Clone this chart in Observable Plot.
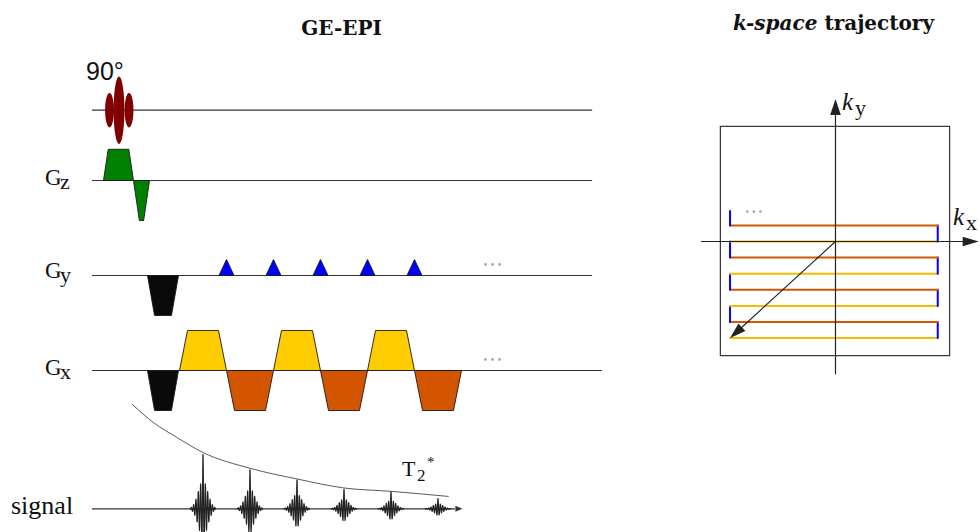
<!DOCTYPE html>
<html><head><meta charset="utf-8">
<script src="https://cdn.jsdelivr.net/npm/d3@7"></script>
<script src="https://cdn.jsdelivr.net/npm/@observablehq/plot@0.6"></script>
<style>
body{margin:0;background:#fff;}
#wrap{position:relative;width:980px;height:532px;overflow:hidden;font-family:"Liberation Serif",serif;color:#111;}
.lbl{position:absolute;white-space:nowrap;line-height:1;}
</style></head><body><div id="wrap"></div>
<script>
// ---------------- data (time in readout-lobe units, amplitudes normalised) ----------------
const rfLobes = [
  {center: -1.489, half: 0.094, amp: 0.51},
  {center: -1.074, half: 0.094, amp: 0.51},
  {center: -1.287, half: 0.115, amp: 1.00}
];
const gzLobes = [
  {start: -1.617, end: -0.979, amp: 0.78, ramp: 0.10},
  {start: -0.979, end: -0.638, amp: -1.0, ramp: 0.125}
];
const gyPrephase = {start: -0.681, end: -0.021, amp: -1.0, ramp: 0.15};
const gyBlipTimes = [1, 2, 3, 4, 5];
const gyBlipAmp = 0.4;
const gyBlipHalf = 0.16;
const gxPrephase = {start: -0.681, end: -0.021, amp: -1.0, ramp: 0.15};
const gxReadoutAmps = [1, -1, 1, -1, 1, -1];
const gxRamp = 0.17;
const echoTimes = [0.5, 1.5, 2.5, 3.5, 4.5, 5.5];
const echoAmps = [1.0, 0.72, 0.53, 0.36, 0.31, 0.19];
const decayTimes = [-1.0, -0.55, -0.04, 0.5, 1.5, 2.5, 3.5, 4.5, 5.72];
const decayAmps = [1.85, 1.53, 1.26, 1.0, 0.72, 0.53, 0.37, 0.31, 0.22];
const ellipsisTimes = [6.51, 6.66, 6.81];
const ellipsisAmp = 0.275;
const lineSpan = {start: -1.85, end: 8.79, gxEnd: 9.0, signalEnd: 6.02};

// k-space
const readoutKy = [-6, -5, -4, -3, -2, -1, 0, 1];
const kxMin = -6.55, kxMax = 6.35;
const lastBlipTop = 1.9;
const kBox = 7.12;
const kDotsKx = [-5.48, -5.07, -4.66];
const kDotsKy = 1.86;
const kAxisX = [-8.32, 8.9];
const kAxisY = [-8.22, 8.85];

// ---------------- styling ----------------
const C = {rf: "#800000", gz: "#008000", pre: "#0a0a0a", pos: "#ffcc00", neg: "#d45500",
  kpos: "#f0c000", blip: "#0000ff", dots: "#8fbc8f", line: "#333333", outline: "#1a1a1a"};
const wrap = document.getElementById("wrap");
const T0 = 179, PX = 47, SEQ_W = 620;

function place(svg, left, top) {
  svg.style.position = "absolute";
  svg.style.left = left + "px";
  svg.style.top = top + "px";
  svg.style.background = "transparent";
  svg.style.overflow = "visible";
  svg.style.maxWidth = "none";
  wrap.appendChild(svg);
}
function seqRow({top, height, base, unit, marks}) {
  const svg = Plot.plot({
    width: SEQ_W, height, margin: 0,
    x: {domain: [(0 - T0) / PX, (SEQ_W - T0) / PX], range: [0, SEQ_W], axis: null},
    y: {domain: [-(height - base) / unit, base / unit], range: [height, 0], axis: null},
    marks
  });
  place(svg, 0, top);
}
function trap(l) {
  return [{t: l.start, a: 0}, {t: l.start + l.ramp, a: l.amp}, {t: l.end - l.ramp, a: l.amp},
          {t: l.end, a: 0}, {t: l.start, a: 0}];
}
function lobeMark(l, fill) {
  return Plot.line(trap(l), {x: "t", y: "a", fill, stroke: C.outline, strokeWidth: 0.9, curve: "linear"});
}
function baseline(end) {
  return Plot.ruleY([0], {x1: lineSpan.start, x2: end, stroke: C.line, strokeWidth: 1.2});
}

// RF row
const ellipse = (l) => d3.range(0, 73).map(i => {
  const th = i / 72 * 2 * Math.PI;
  return {t: l.center + l.half * Math.cos(th), a: l.amp * Math.sin(th)};
});
seqRow({top: 40, height: 120, base: 69.7, unit: 33.7, marks: [
  baseline(lineSpan.end),
  ...rfLobes.map(l => Plot.line(ellipse(l), {x: "t", y: "a", fill: C.rf, stroke: "none", curve: "linear"}))
]});

// Gz row
seqRow({top: 140, height: 90, base: 40, unit: 40, marks: [
  baseline(lineSpan.end),
  ...gzLobes.map(l => lobeMark(l, C.gz))
]});

// Gy row
const blips = gyBlipTimes.map(t => ({start: t - gyBlipHalf, end: t + gyBlipHalf, amp: gyBlipAmp, ramp: gyBlipHalf}));
seqRow({top: 240, height: 90, base: 35, unit: 40, marks: [
  baseline(lineSpan.end),
  lobeMark(gyPrephase, C.pre),
  ...blips.map(l => lobeMark(l, C.blip)),
  Plot.dot(ellipsisTimes, {x: d => d, y: () => ellipsisAmp, r: 1.4, fill: C.dots, stroke: "none"})
]});

// Gx row
const readout = gxReadoutAmps.map((a, k) => ({start: k, end: k + 1, amp: a, ramp: gxRamp}));
seqRow({top: 320, height: 100, base: 50, unit: 40, marks: [
  baseline(lineSpan.gxEnd),
  lobeMark(gxPrephase, C.pre),
  ...readout.map(l => lobeMark(l, l.amp > 0 ? C.pos : C.neg)),
  Plot.dot(ellipsisTimes, {x: d => d, y: () => ellipsisAmp, r: 1.4, fill: C.dots, stroke: "none"})
]});

// Signal row
const period = 0.05, sigN = 0.019, sigW = 0.145, span = 0.27;
const echoes = echoTimes.flatMap((tc, i) => d3.range(-span, span + 1e-9, 0.004).map(s => ({
  echo: i, t: tc + s,
  a: echoAmps[i] * (0.5 * Math.exp(-((s / sigN) ** 2)) + 0.5 * Math.exp(-((s / sigW) ** 2))) * Math.cos(2 * Math.PI * s / period)
})));
const decay = decayTimes.map((t, i) => ({t, a: decayAmps[i]}));
const headLen = 0.15, headHalf = 0.053;
seqRow({top: 395, height: 137, base: 113.3, unit: 56.3, marks: [
  Plot.ruleY([0], {x1: lineSpan.start, x2: lineSpan.signalEnd - headLen, stroke: C.line, strokeWidth: 1.2}),
  Plot.line([{t: lineSpan.signalEnd - headLen, a: headHalf}, {t: lineSpan.signalEnd, a: 0}, {t: lineSpan.signalEnd - headLen, a: -headHalf}],
    {x: "t", y: "a", fill: C.line, stroke: "none"}),
  Plot.line(decay, {x: "t", y: "a", curve: "monotone-x", stroke: "#5a5a5a", strokeWidth: 1}),
  Plot.line(echoes, {x: "t", y: "a", z: "echo", stroke: "#222", strokeWidth: 1.15, curve: "linear"})
]});

// k-space plot
const KL = 690, KT = 90, KW = 290, KH = 290, KU = 16.1, KCX = 145, KCY = 151;
const segs = [];
readoutKy.forEach((ky, i) => {
  const pos = i % 2 === 0;
  segs.push({id: "r" + i, color: pos ? C.kpos : C.neg, pts: [{kx: kxMin, ky}, {kx: kxMax, ky}]});
  const nextKy = i < readoutKy.length - 1 ? readoutKy[i + 1] : lastBlipTop;
  const kx = pos ? kxMax : kxMin;
  segs.push({id: "b" + i, color: C.blip, pts: [{kx, ky}, {kx, ky: nextKy}]});
});
function arrowHead(x0, y0, x1, y1, len, half) {
  const dx = x1 - x0, dy = y1 - y0, L = Math.hypot(dx, dy), ux = dx / L, uy = dy / L;
  const bx = x1 - ux * len, by = y1 - uy * len;
  return {base: {kx: bx, ky: by}, tri: [{kx: bx - uy * half, ky: by + ux * half}, {kx: x1, ky: y1}, {kx: bx + uy * half, ky: by - ux * half}]};
}
const axX = arrowHead(kAxisX[0], 0, kAxisX[1], 0, 1.0, 0.3);
const axY = arrowHead(0, kAxisY[0], 0, kAxisY[1], 1.0, 0.33);
const pre = arrowHead(0, 0, kxMin, readoutKy[0], 1.0, 0.32);
const kMarks = [
  Plot.rect([{}], {x1: -kBox, x2: kBox, y1: -kBox, y2: kBox, fill: "none", stroke: "#333", strokeWidth: 1.2}),
  ...segs.map(s => Plot.line(s.pts, {x: "kx", y: "ky", stroke: s.color, strokeWidth: 2})),
  Plot.dot(kDotsKx, {x: d => d, y: () => kDotsKy, r: 1.4, fill: C.dots, stroke: "none"}),
  Plot.line([{kx: kAxisX[0], ky: 0}, axX.base], {x: "kx", y: "ky", stroke: "#222", strokeWidth: 1.2}),
  Plot.line(axX.tri, {x: "kx", y: "ky", fill: "#222", stroke: "none"}),
  Plot.line([{kx: 0, ky: kAxisY[0]}, axY.base], {x: "kx", y: "ky", stroke: "#222", strokeWidth: 1.2}),
  Plot.line(axY.tri, {x: "kx", y: "ky", fill: "#222", stroke: "none"}),
  Plot.line([{kx: 0, ky: 0}, pre.base], {x: "kx", y: "ky", stroke: "#222", strokeWidth: 1.1}),
  Plot.line(pre.tri, {x: "kx", y: "ky", fill: "#222", stroke: "none"})
];
const ksvg = Plot.plot({
  width: KW, height: KH, margin: 0,
  x: {domain: [-KCX / KU, (KW - KCX) / KU], range: [0, KW], axis: null},
  y: {domain: [(KCY - KH) / KU, KCY / KU], range: [KH, 0], axis: null},
  marks: kMarks
});
place(ksvg, KL, KT);

// ---------------- text ----------------
function label(txt, left, base, size, opts = {}) {
  const s = document.createElement("span");
  s.className = "lbl";
  s.style.left = left + "px";
  s.style.top = (base - 0.84 * size) + "px";
  s.style.fontSize = size + "px";
  if (opts.family) s.style.fontFamily = opts.family;
  if (opts.bold) s.style.fontWeight = "bold";
  if (opts.italic) s.style.fontStyle = "italic";
  if (opts.center) s.style.transform = "translateX(-50%)";
  if (opts.html) s.innerHTML = txt; else s.textContent = txt;
  wrap.appendChild(s);
}
label("GE-EPI", 341.5, 35, 20, {bold: true, center: true, family: "DejaVu Serif"});
label("<i>k-space</i> trajectory", 833.5, 30, 20, {bold: true, center: true, html: true, family: "DejaVu Serif"});
label("90°", 86, 80, 25, {family: "Liberation Sans"});
label("G", 45, 185, 23); label("z", 60, 189, 22);
label("G", 45, 278, 23); label("y", 60, 282, 22);
label("G", 45, 375, 23); label("x", 60, 379, 22);
label("signal", 11, 515, 26);
label("T", 402, 476, 22); label("2", 417, 481, 17); label("*", 427, 468, 15);
label("k", 842, 110, 25, {italic: true}); label("y", 855, 115, 22);
label("k", 953, 225, 25, {italic: true}); label("x", 966, 230, 22);
</script></body></html>
